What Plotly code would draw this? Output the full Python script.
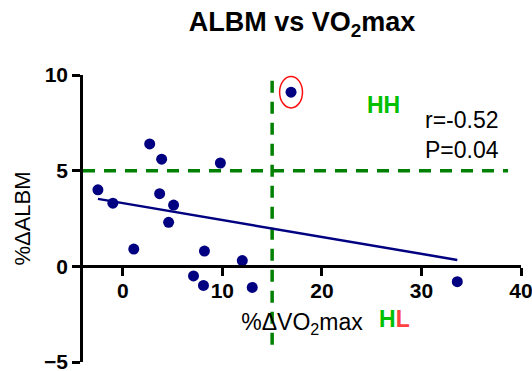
import numpy as np
import plotly.graph_objects as go

# Percent change in VO2max (x) and appendicular lean body mass (y) per subject
vo2max_change = [-2.5, -1.0, 1.1, 2.7, 3.9, 3.7, 5.1, 4.6, 9.8, 7.1, 8.2, 8.1, 12.0, 13.0, 16.9, 33.6]
albm_change = [4.0, 3.3, 0.9, 6.4, 5.6, 3.8, 3.2, 2.3, 5.4, -0.5, 0.8, -1.0, 0.3, -1.1, 9.1, -0.8]

x_ticks = [0, 10, 20, 30, 40]
y_ticks = [-5, 0, 5, 10]

# Responder thresholds
vo2_cut = 15
albm_cut = 5

stats_text = "r=-0.52<br>P=0.04"

FONT = "Arial, Liberation Sans, sans-serif"
NAVY = "#000080"
DGREEN = "#008000"

x = np.array(vo2max_change)
y = np.array(albm_change)
slope, intercept = np.polyfit(x, y, 1)
fit_x = np.array([x.min(), x.max()])
fit_y = slope * fit_x + intercept

fig = go.Figure()

# Threshold guide lines
fig.add_trace(go.Scatter(
    x=[-4, 38.7], y=[albm_cut, albm_cut], mode="lines",
    line=dict(color=DGREEN, width=3.5, dash="12px,9px"),
    hoverinfo="skip", showlegend=False))
fig.add_trace(go.Scatter(
    x=[vo2_cut, vo2_cut], y=[-4.1, 9.7], mode="lines",
    line=dict(color=DGREEN, width=3.5, dash="12px,9px"),
    hoverinfo="skip", showlegend=False))

# Linear regression line
fig.add_trace(go.Scatter(
    x=fit_x, y=fit_y, mode="lines",
    line=dict(color=NAVY, width=2.5),
    hoverinfo="skip", showlegend=False))

# Subjects
fig.add_trace(go.Scatter(
    x=vo2max_change, y=albm_change, mode="markers",
    marker=dict(color=NAVY, size=11),
    showlegend=False))

# Highlight the high-high responder
i_top = int(np.argmax(y))
fig.add_shape(type="circle", xref="x", yref="y",
              x0=x[i_top] - 1.15, x1=x[i_top] + 1.15,
              y0=y[i_top] - 0.82, y1=y[i_top] + 0.82,
              line=dict(color="#FF1010", width=1.5))

fig.add_annotation(x=26.2, y=8.44, xref="x", yref="y", showarrow=False,
                   text="HH", font=dict(family=FONT, size=23, color="#00C000", weight="bold"))
fig.add_annotation(x=27.3, y=-2.75, xref="x", yref="y", showarrow=False,
                   text="<span style='color:#00C000'>H</span><span style='color:#FF4040'>L</span>",
                   font=dict(family=FONT, size=23, weight="bold"))
fig.add_annotation(x=30.2, y=6.85, xref="x", yref="y", showarrow=False,
                   xanchor="left", align="left", text=stats_text,
                   font=dict(family=FONT, size=23, color="black"))

fig.update_layout(
    width=532, height=371,
    margin=dict(l=83, r=11, t=75, b=9, autoexpand=False),
    plot_bgcolor="white", paper_bgcolor="white",
    font=dict(family=FONT, color="black"),
    title=dict(text="ALBM vs VO<sub>2</sub>max", x=0.5, xref="paper",
               y=1 - 22 / 371, yanchor="middle",
               font=dict(family=FONT, size=27, color="black", weight="bold")),
    xaxis=dict(
        range=[-4, 40], tickvals=x_ticks, showgrid=False, zeroline=False,
        showline=True, linecolor="black", linewidth=2.5,
        ticks="outside", ticklen=8, tickwidth=2.5, tickcolor="black",
        tickfont=dict(family=FONT, size=21, weight="bold"),
        ticklabelstandoff=-3, ticklabeloverflow="allow", automargin=False,
        anchor="free", position=1 / 3,
        title=dict(text="%ΔVO<sub>2</sub>max", standoff=12,
                   font=dict(family=FONT, size=23)),
    ),
    yaxis=dict(
        range=[-5, 10], tickvals=y_ticks, showgrid=False, zeroline=False,
        showline=True, linecolor="black", linewidth=2.5,
        ticks="outside", ticklen=8, tickwidth=2.5, tickcolor="black",
        tickfont=dict(family=FONT, size=21, weight="bold"),
        ticklabeloverflow="allow", automargin=False,
        title=dict(text="%ΔALBM", standoff=8,
                   font=dict(family=FONT, size=22)),
    ),
)

fig.write_html("out.html")
